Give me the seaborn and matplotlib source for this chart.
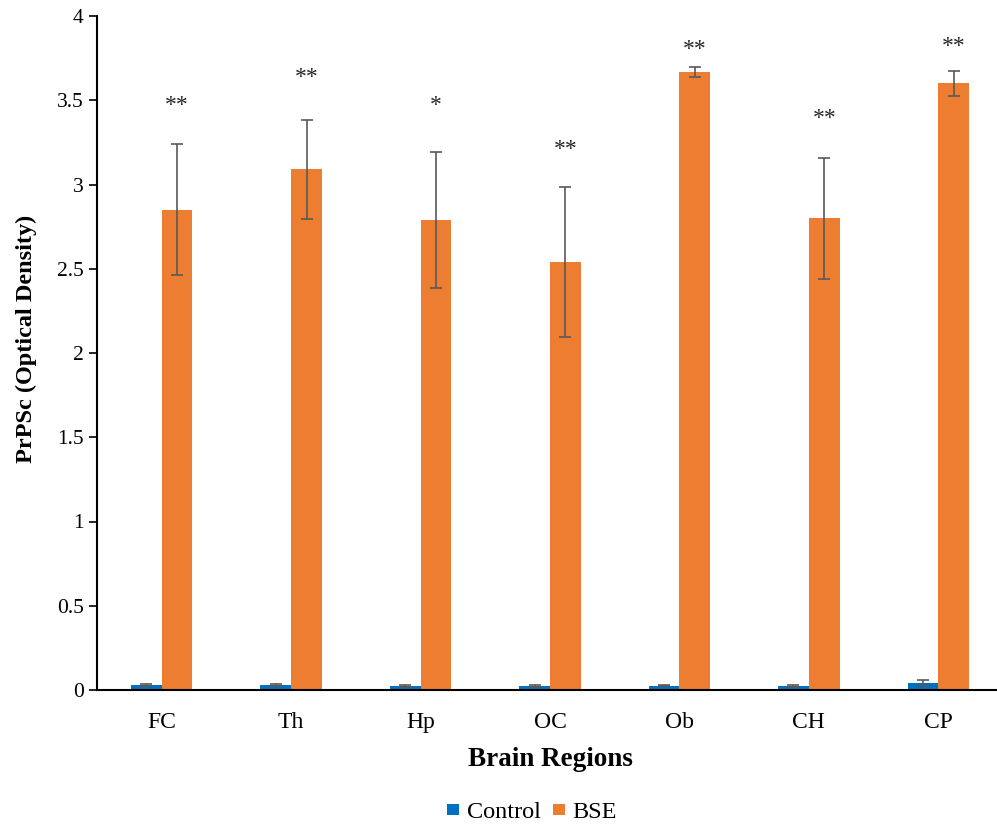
import numpy as np
import pandas as pd
import matplotlib
matplotlib.use("Agg")
import matplotlib.pyplot as plt
import seaborn as sns

regions = ["FC", "Th", "Hp", "OC", "Ob", "CH", "CP"]
control_mean = [0.030, 0.030, 0.025, 0.025, 0.025, 0.025, 0.040]
control_err = [0.008, 0.005, 0.005, 0.005, 0.004, 0.005, 0.017]
bse_mean = [2.85, 3.09, 2.79, 2.54, 3.67, 2.80, 3.60]
bse_err = [0.39, 0.295, 0.405, 0.445, 0.03, 0.36, 0.075]
stars = ["**", "**", "*", "**", "**", "**", "**"]
star_y = [3.50, 3.665, 3.50, 3.24, 3.83, 3.42, 3.85]
groups = ["Control", "BSE"]
colors = ["#0070C0", "#ED7D31"]

df = pd.DataFrame({
    "Region": regions * 2,
    "Group": ["Control"] * len(regions) + ["BSE"] * len(regions),
    "Value": control_mean + bse_mean,
})

sns.set_style("white")
plt.rcParams["font.family"] = ["Liberation Serif", "DejaVu Serif"]
for k in ["text.color", "axes.labelcolor", "xtick.color", "ytick.color"]:
    plt.rcParams[k] = "black"

fig = plt.figure(figsize=(9.97, 8.27), dpi=100)
ax = fig.add_axes([97 / 997, (827 - 690) / 827, 906 / 997, 674 / 827])

sns.barplot(data=df, x="Region", y="Value", hue="Group", order=regions,
            hue_order=groups, palette=colors, errorbar=None, width=0.475,
            saturation=1, linewidth=0, ax=ax, legend=True)

for cont, errs, means in zip(ax.containers, [control_err, bse_err], [control_mean, bse_mean]):
    xs = [p.get_x() + p.get_width() / 2 for p in cont.patches]
    ax.errorbar(xs, means, yerr=errs, fmt="none", ecolor="#595959",
                elinewidth=1.2, capsize=4.5, capthick=1.2, zorder=5)

xb = [p.get_x() + p.get_width() / 2 for p in ax.containers[1].patches]
for x, y, s in zip(xb, star_y, stars):
    ax.text(x, y - 0.03, s, ha="center", va="center", fontsize=17,
            color="#262626")

ax.set_ylim(0, 4)
ax.set_xlim(-0.5, 6.5)
ax.set_yticks(np.arange(0, 4.01, 0.5))
ax.set_yticklabels(["0", "0.5", "1", "1.5", "2", "2.5", "3", "3.5", "4"])
ax.set_xticks(range(len(regions)))
ax.set_xticklabels(regions)
ax.set_xticks(np.arange(-0.5, 7, 1), minor=True)
ax.tick_params(axis="x", which="major", length=0, labelsize=17, pad=16)
ax.tick_params(axis="x", which="minor", length=6, width=1.2, color="black", direction="out")
ax.tick_params(axis="y", which="major", length=6, width=1.2, color="black",
               direction="out", labelsize=15.5, left=True)

for side in ["top", "right"]:
    ax.spines[side].set_visible(False)
for side in ["left", "bottom"]:
    ax.spines[side].set_color("black")
    ax.spines[side].set_linewidth(1.5)

ax.set_xlabel("Brain Regions", fontsize=19.5, fontweight="bold", labelpad=10)
ax.set_ylabel("PrPSc (Optical Density)", fontsize=17.5, fontweight="bold", labelpad=14)
ax.yaxis.label.set_y((690 - 339) / 674)

handles, labels = ax.get_legend_handles_labels()
ax.legend(handles, labels, loc="center", bbox_to_anchor=(532 / 997, 14 / 827),
          bbox_transform=fig.transFigure, ncol=2, frameon=False, fontsize=17.5,
          handlelength=0.5, handleheight=0.32, handletextpad=0.3, columnspacing=0.5)

fig.savefig("out.png", dpi=100)
